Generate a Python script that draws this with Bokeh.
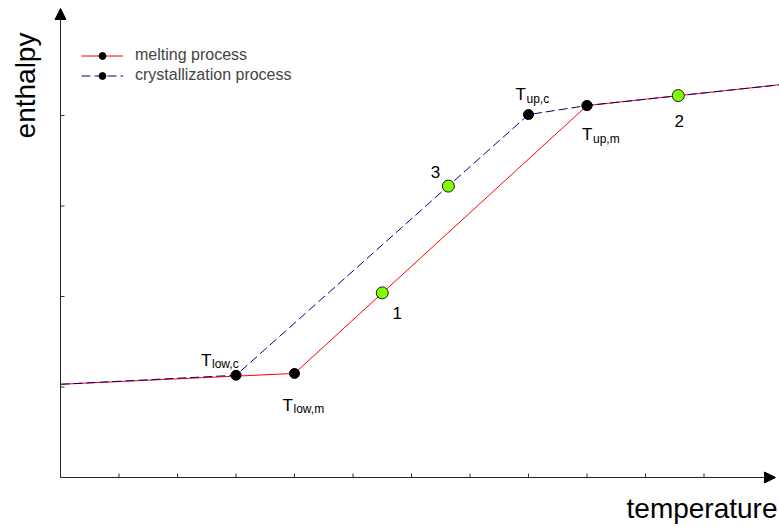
from bokeh.plotting import figure
from bokeh.models import Range1d, Label, Arrow, NormalHead, Legend, LegendItem
from bokeh.embed import file_html
from bokeh.resources import INLINE
import math

# ---- data (arbitrary temperature / enthalpy units) ----
melt_x = [0.0, 4.0, 9.0, 12.3]
melt_y = [1.03, 1.15, 4.11, 4.34]
cryst_x = [0.0, 3.0, 8.0, 9.0, 12.3]
cryst_y = [1.03, 1.13, 4.01, 4.11, 4.34]

# characteristic temperatures (black dots)
melt_dot_x = [4.0, 9.0]
melt_dot_y = [1.15, 4.11]
cryst_dot_x = [3.0, 8.0, 9.0]
cryst_dot_y = [1.13, 4.01, 4.11]

tlabel_sub = ["low,c", "low,m", "up,c", "up,m"]
tlabel_x = [3.0, 4.0, 8.0, 9.0]
tlabel_y = [1.13, 1.15, 4.01, 4.11]
# pixel offsets of the "T" and of the subscript relative to the point
tlabel_T_off = [(-35, 15), (-12, -32), (-13, 20), (-5, -29)]
tlabel_s_off = [(-24, 11), (-1, -36), (-2, 16), (6, -33)]

# state points (green)
state_labels = ["1", "2", "3"]
state_x = [5.5, 10.56, 6.63]
state_y = [2.04, 4.22, 3.22]
state_off = [(15, -20), (1, -25), (-13, 14)]

x_ticks = list(range(0, 12))
y_ticks = [1, 2, 3, 4]

# data range shown (origin of the axes sits 60 px from the left, 50 px from the bottom)
X_MIN, X_MAX = -60 / 58.5, 719 / 58.5
Y_MIN, Y_MAX = -50 / 90.5, 477 / 90.5
X_ARROW = 715 / 58.5
Y_ARROW = 469 / 90.5

FONT = "Liberation Sans"

p = figure(width=779, height=527, x_range=Range1d(X_MIN, X_MAX), y_range=Range1d(Y_MIN, Y_MAX),
           output_backend="svg", toolbar_location=None, x_axis_type=None, y_axis_type=None,
           min_border=0)
p.outline_line_color = None
p.grid.visible = False
p.background_fill_color = "white"

# tick marks (inward)
p.ray(x=x_ticks, y=[0] * len(x_ticks), length=4, length_units="screen",
      angle=math.pi / 2, line_color="#333333", line_width=1)
p.ray(x=[0] * len(y_ticks), y=y_ticks, length=4, length_units="screen",
      angle=0, line_color="#333333", line_width=1)

# axis arrows
p.add_layout(Arrow(end=NormalHead(size=11, fill_color="black", line_color="black"),
                   x_start=0, y_start=0, x_end=X_ARROW, y_end=0,
                   line_color="#222222", line_width=1))
p.add_layout(Arrow(end=NormalHead(size=11, fill_color="black", line_color="black"),
                   x_start=0, y_start=0, x_end=0, y_end=Y_ARROW,
                   line_color="#222222", line_width=1))

melt_line = p.line(melt_x, melt_y, line_color="#ff0000", line_width=1)
cryst_line = p.line(cryst_x, cryst_y, line_color="#000080", line_width=1, line_dash="9 4")
melt_dots = p.scatter(melt_dot_x, melt_dot_y, size=10, fill_color="black", line_color="black")
cryst_dots = p.scatter(cryst_dot_x, cryst_dot_y, size=10, fill_color="black", line_color="black")
p.scatter(state_x, state_y, size=12, fill_color="#7fff00", line_color="#1a1a1a", line_width=1)

for sub, x, y, to, so in zip(tlabel_sub, tlabel_x, tlabel_y, tlabel_T_off, tlabel_s_off):
    p.add_layout(Label(x=x, y=y, x_offset=to[0], y_offset=to[1], text="T",
                       text_font=FONT, text_font_size="17px", text_color="black",
                       text_align="left", text_baseline="alphabetic"))
    p.add_layout(Label(x=x, y=y, x_offset=so[0], y_offset=so[1], text=sub,
                       text_font=FONT, text_font_size="12px", text_color="black",
                       text_align="left", text_baseline="alphabetic"))

for t, x, y, o in zip(state_labels, state_x, state_y, state_off):
    p.add_layout(Label(x=x, y=y, x_offset=o[0], y_offset=o[1], text=t,
                       text_font=FONT, text_font_size="17px", text_color="black",
                       text_align="center", text_baseline="alphabetic"))

# axis titles
p.add_layout(Label(x=X_MAX, y=0, x_offset=-2, y_offset=-31, text="temperature",
                   text_font=FONT, text_font_size="28px", text_color="black",
                   text_align="right", text_baseline="alphabetic"))
p.add_layout(Label(x=0, y=Y_MAX, x_offset=-35, y_offset=-85, text="enthalpy",
                   text_font=FONT, text_font_size="28px", text_color="black",
                   text_align="center", text_baseline="middle", angle=math.pi / 2))

legend = Legend(items=[LegendItem(label="melting process", renderers=[melt_line, melt_dots]),
                       LegendItem(label="crystallization process", renderers=[cryst_line, cryst_dots])],
                location=(81, 443), glyph_width=42, glyph_height=17, label_standoff=12,
                spacing=2, padding=10, margin=0, border_line_color=None,
                background_fill_alpha=0, label_text_font=FONT, label_text_font_size="16px",
                label_height=17)
p.add_layout(legend)

open("out.html", "w").write(file_html(p, INLINE))
